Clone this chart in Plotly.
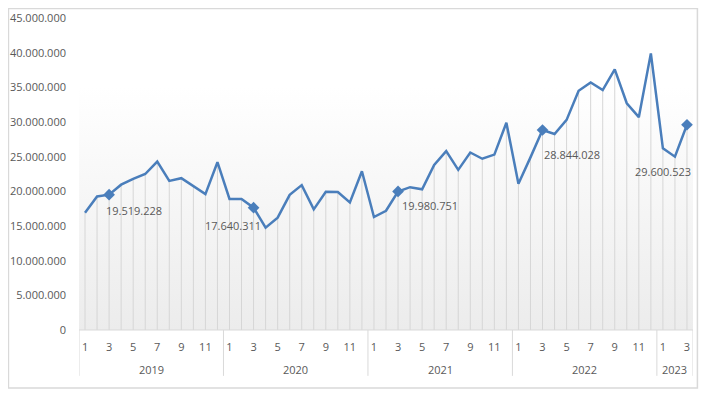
import base64
import plotly.graph_objects as go

# ---- data ----
years = ["2019"] * 12 + ["2020"] * 12 + ["2021"] * 12 + ["2022"] * 12 + ["2023"] * 3
months = list(range(1, 13)) * 4 + [1, 2, 3]
values = [
    16_900_000, 19_250_000, 19_519_228, 20_960_000, 21_800_000, 22_500_000,
    24_300_000, 21_500_000, 21_900_000, 20_800_000, 19_600_000, 24_200_000,
    18_900_000, 18_900_000, 17_640_311, 14_760_000, 16_200_000, 19_500_000,
    20_900_000, 17_400_000, 19_950_000, 19_900_000, 18_400_000, 22_900_000,
    16_300_000, 17_200_000, 19_980_751, 20_600_000, 20_300_000, 23_800_000,
    25_800_000, 23_100_000, 25_600_000, 24_700_000, 25_300_000, 29_900_000,
    21_100_000, 24_900_000, 28_844_028, 28_270_000, 30_300_000, 34_500_000,
    35_700_000, 34_600_000, 37_600_000, 32_700_000, 30_700_000, 39_900_000,
    26_200_000, 25_000_000, 29_600_523,
]
labeled_idx = [2, 14, 26, 38, 50]
y_ticks = list(range(0, 45_000_001, 5_000_000))
year_names = ["2019", "2020", "2021", "2022", "2023"]

# ---- styling ----
LINE = "#4a7ebb"
TXT = "#595959"
GRID = "#d9d9d9"
FONT = "Open Sans"
label_style = [  # (xanchor, xshift, yshift)
    ("left", -5, -16),
    ("right", 9, -18),
    ("left", 2, -14),
    ("left", -1, -24),
    ("right", 6, -47),
]

x = list(range(len(values)))

def fmt(v):
    return f"{v:,}".replace(",", ".")

fig = go.Figure()

# drop lines
fig.add_trace(go.Scatter(
    x=x, y=values, mode="markers", marker=dict(size=0.1, opacity=0),
    error_y=dict(type="data", symmetric=False, array=[0] * len(values),
                 arrayminus=values, width=0, color="#d6d6d6", thickness=1),
    hoverinfo="skip", showlegend=False,
))
# main line
fig.add_trace(go.Scatter(
    x=x, y=values, mode="lines", line=dict(color=LINE, width=2.5),
    showlegend=False,
))
# markers on labeled points
fig.add_trace(go.Scatter(
    x=[x[i] for i in labeled_idx], y=[values[i] for i in labeled_idx],
    mode="markers", marker=dict(symbol="diamond", size=9, color=LINE),
    showlegend=False,
))

for (xa, xs, ys), i in zip(label_style, labeled_idx):
    fig.add_annotation(x=x[i], y=values[i], text=fmt(values[i]), showarrow=False,
                       xanchor=xa, yanchor="middle", xshift=xs, yshift=ys,
                       font=dict(family=FONT, size=11, color=TXT))

# year group labels and dividers
bounds = []
start = 0
for yn in year_names:
    n = years.count(yn)
    bounds.append((start, start + n))
    start += n

shapes = []
for s, e in bounds:
    fig.add_annotation(x=(s + e - 1) / 2, y=-0.128, xref="x", yref="paper",
                       text=years[s], showarrow=False, yanchor="middle",
                       font=dict(family=FONT, size=11, color=TXT))
    shapes.append(dict(type="line", xref="x", yref="paper", x0=s - 0.5, x1=s - 0.5,
                       y0=0, y1=-0.147, line=dict(color=GRID, width=1)))
shapes.append(dict(type="line", xref="x", yref="paper", x0=len(values) - 0.5,
                   x1=len(values) - 0.5, y0=0, y1=-0.147, line=dict(color=GRID, width=1)))
shapes.append(dict(type="line", xref="x", yref="paper", x0=-0.5, x1=len(values) - 0.5,
                   y0=0, y1=0, line=dict(color=GRID, width=1)))
# chart border
shapes.append(dict(type="rect", xref="paper", yref="paper", x0=-0.1149, x1=1.0072,
                   y0=-0.1859, y1=1.0304, line=dict(color="#d9d9d9", width=1.5),
                   layer="below"))

svg = ('<svg xmlns="http://www.w3.org/2000/svg" width="100" height="100" '
       'preserveAspectRatio="none" viewBox="0 0 100 100">'
       '<defs><linearGradient id="g" x1="0" y1="0" x2="0" y2="1">'
       '<stop offset="0.22" stop-color="#ffffff"/>'
       '<stop offset="1" stop-color="#ececec"/></linearGradient></defs>'
       '<rect width="100" height="100" fill="url(#g)"/></svg>')
src = "data:image/svg+xml;base64," + base64.b64encode(svg.encode()).decode()

tick_vals = [i for i, m in enumerate(months) if m % 2 == 1]
tick_text = [str(months[i]) for i in tick_vals]

# page body has an 8px margin, so the figure is sized to fit inside it
fig.update_layout(
    width=701, height=390,
    margin=dict(l=71, r=16, t=10, b=68),
    paper_bgcolor="white", plot_bgcolor="rgba(0,0,0,0)",
    separators=",.",
    shapes=shapes,
    images=[dict(source=src, xref="paper", yref="paper", x=0, y=1, sizex=1, sizey=1,
                 xanchor="left", yanchor="top", sizing="stretch", layer="below")],
    xaxis=dict(range=[-0.5, len(values) - 0.5], tickmode="array", tickvals=tick_vals,
               ticktext=tick_text, showgrid=False, zeroline=False, showline=False,
               ticks="", ticklabelstandoff=9, automargin=False,
               tickfont=dict(family=FONT, size=11, color=TXT)),
    yaxis=dict(range=[0, 45_000_000], tickvals=y_ticks, tickformat=",d",
               showgrid=False, zeroline=False, showline=False, ticks="",
               ticklabelstandoff=12, automargin=False,
               tickfont=dict(family=FONT, size=11, color=TXT)),
    hovermode=False,
)

fig.write_html("out.html")
